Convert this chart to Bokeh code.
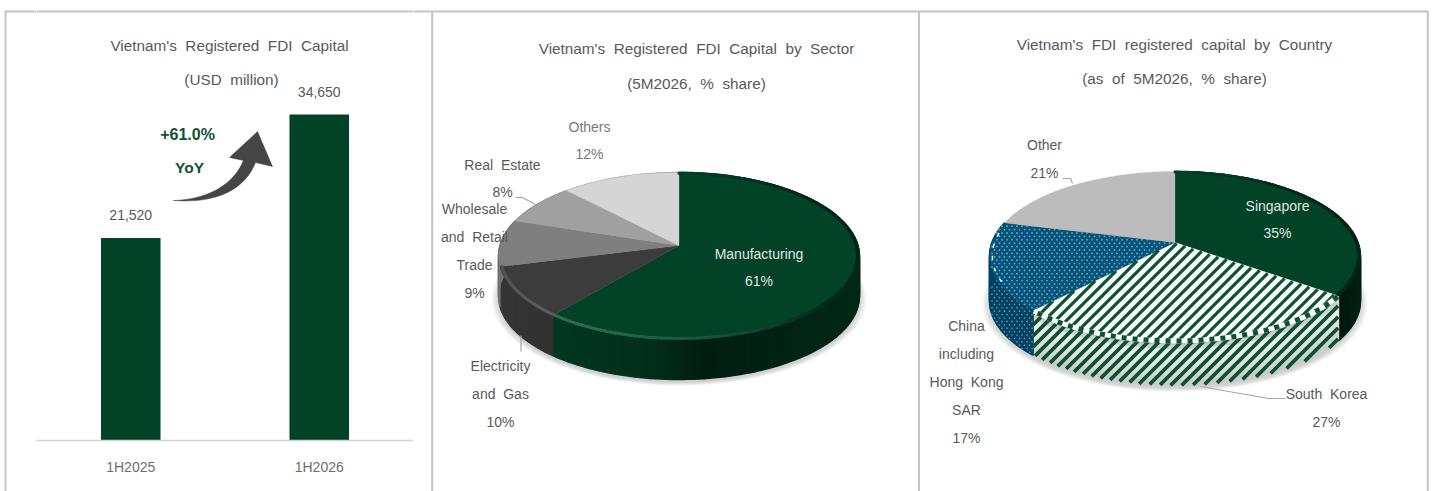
import numpy as np
from bokeh.embed import file_html
from bokeh.layouts import row
from bokeh.models import FixedTicker, Range1d
from bokeh.plotting import figure
from bokeh.resources import INLINE
from bokeh.core.properties import value

# ---------- data ----------
bar_categories = ["1H2025", "1H2026"]
bar_values = [21520, 34650]
bar_labels = ["21,520", "34,650"]
sector_names = ["Manufacturing", "Electricity\nand Gas", "Wholesale\nand Retail\nTrade", "Real Estate", "Others"]
sector_values = [61, 10, 9, 8, 12]
country_names = ["Singapore", "South Korea", "China\nincluding\nHong Kong\nSAR", "Other"]
country_values = [35, 27, 17, 21]

# ---------- style ----------
FONT = value("Liberation Sans")
GREEN = "#024227"
TXT = "#595959"
LEAD = "#a6a6a6"
BORDER = "#c4c4c4"
W0, W1, W2, H = 36, 377, 1022, 491
TITLE_SIZE = "15.3px"
LABEL_SIZE = "14px"


def wide(s):
    """The reference sets its words far apart."""
    return s.replace(" ", " \u00a0")


def hex2rgb(c):
    return np.array([int(c[i:i + 2], 16) for i in (1, 3, 5)], float)


def rgb2hex(a):
    a = np.clip(np.round(a), 0, 255).astype(int)
    return "#%02x%02x%02x" % tuple(a)


def mix(c1, c2, t):
    return rgb2hex(hex2rgb(c1) * (1 - t) + hex2rgb(c2) * t)


def shade(c, f):
    return rgb2hex(hex2rgb(c) * f)


class Pie:
    """Perspective view of a unit disc; angles run clockwise from twelve o'clock."""

    def __init__(self, cx, ay, up, down, half_w, depth):
        self.cx, self.ay, self.depth = cx, ay, depth
        self.k = (down - up) / (down + up)
        self.b = up * (1 + self.k)
        self.a = half_w * np.sqrt(1 - self.k ** 2)

    def pt(self, th, r=1.0):
        u, v = r * np.sin(th), r * np.cos(th)
        w = 1 + self.k * v
        return self.cx + self.a * u / w, self.ay - self.b * v / w


def slices(vals):
    edges = np.cumsum([0] + list(vals)) / sum(vals) * 2 * np.pi
    return list(zip(edges[:-1], edges[1:]))


def arc(t0, t1, deg=1.5):
    n = max(2, int(np.degrees(t1 - t0) / deg) + 1)
    return np.linspace(t0, t1, n)


def shadow(p, pie, alpha=0.045):
    th = np.linspace(0, 2 * np.pi, 140)
    x, y = pie.pt(th)
    my = (y.max() + y.min()) / 2
    for g in range(7):
        s = 1 + 0.0065 * g
        p.patch(pie.cx + (x - pie.cx) * s, my + pie.depth + 3 + (y - my) * s,
                fill_color="#606060", fill_alpha=alpha, line_color=None)


def side(p, pie, t0, t1, base, profile=(1.0,), curve=((-1, 0.9), (-0.2, 0.75), (0.1, 0.45), (1, 0.62))):
    """Front wall of one slice. Brightness follows the left-right position."""
    th = arc(t0, t1)
    xs, ys, cs = [], [], []
    us, fs = zip(*curve)
    nb = len(profile)
    for a, b in zip(th[:-1], th[1:]):
        xa, ya = pie.pt(a)
        xb, yb = pie.pt(b)
        f = np.interp(np.sin((a + b) / 2), us, fs)
        for i, pf in enumerate(profile):
            d0, d1 = pie.depth * i / nb, pie.depth * (i + 1) / nb
            xs.append([xa, xb, xb, xa])
            ys.append([ya + d0, yb + d0, yb + d1, ya + d1])
            cs.append(shade(base, f * pf))
    p.patches(xs, ys, fill_color=cs, line_color=cs, line_width=1.4)


def top(p, pie, t0, t1, color):
    th = arc(t0, t1, 1.0)
    x, y = pie.pt(th)
    p.patch(np.r_[pie.cx, x], np.r_[pie.ay, y], fill_color=color, line_color=color, line_width=0.3)


def bevel(p, pie, t0, t1, light, dark, base, width=3.0):
    """Rim highlight: lit toward the lower left, darkening toward the right."""
    th = arc(t0, t1, 1.5)
    xs, ys, cs = [], [], []
    for a, b in zip(th[:-1], th[1:]):
        m = (a + b) / 2
        u, v = np.sin(m), np.cos(m)
        xa, ya = pie.pt(a, 0.99)
        xb, yb = pie.pt(b, 0.99)
        t = np.clip(0.55 - 0.75 * u, 0, 1) * np.clip(-v + 0.1, 0, 1) ** 0.5
        d = np.clip(u + 0.05, 0, 1)
        c = mix(mix(base, dark, d), light, t)
        xs.append([xa, xb])
        ys.append([ya, yb])
        cs.append(c)
    p.multi_line(xs, ys, line_color=cs, line_width=width, line_cap="round")


def inside(px, py, qx, qy):
    c = np.zeros(px.shape, bool)
    j = len(qx) - 1
    for i in range(len(qx)):
        cond = (qy[i] > py) != (qy[j] > py)
        with np.errstate(divide="ignore", invalid="ignore"):
            xint = (qx[j] - qx[i]) * (py - qy[i]) / (qy[j] - qy[i]) + qx[i]
        c ^= cond & (px < xint)
        j = i
    return c


def stripes(p, qx, qy, period, slope, color, width, phase=0.0):
    """Rising diagonal lines limited to a polygon."""
    x0, x1 = qx.min(), qx.max()
    y0, y1 = qy.min(), qy.max()
    # line: y = c - slope * x
    cmin = y0 + slope * x0
    cmax = y1 + slope * x1
    step = period * slope
    first = np.floor((cmin - phase) / step) * step + phase
    xs, ys = [], []
    for c in np.arange(first, cmax + step, step):
        sx = np.arange(x0, x1 + 0.5, 0.5)
        sy = c - slope * sx
        m = inside(sx, sy, qx, qy)
        if not m.any():
            continue
        idx = np.where(m)[0]
        for run in np.split(idx, np.where(np.diff(idx) > 1)[0] + 1):
            if len(run) > 1:
                xs.append([sx[run[0]], sx[run[-1]]])
                ys.append([sy[run[0]], sy[run[-1]]])
    p.multi_line(xs, ys, line_color=color, line_width=width)


def dots(p, qx, qy, color, dx=5.0, dy=3.4, size=1.9):
    gy = np.arange(qy.min(), qy.max() + dy, dy)
    px, py = [], []
    for i, y in enumerate(gy):
        gx = np.arange(qx.min() + (dx / 2 if i % 2 else 0), qx.max(), dx)
        px.append(gx)
        py.append(np.full(gx.shape, y))
    px, py = np.concatenate(px), np.concatenate(py)
    m = inside(px, py, qx, qy)
    p.scatter(px[m], py[m], marker="circle", size=size, fill_color=color, line_color=None)


def T(p, x, y, s, color=TXT, size=LABEL_SIZE, style="normal", **kw):
    p.text([x], [y], text=[wide(s)], text_font=FONT, text_font_size=size, text_font_style=style,
           text_color=color, text_align="center", text_baseline="middle", **kw)


def block(p, x, y, name, val, color=TXT, pitch=28):
    lines = name.split("\n") + [f"{val}%"]
    for i, s in enumerate(lines):
        T(p, x, y + pitch * i, s, color=color)


def lead(p, xs, ys):
    p.line(xs, ys, line_color=LEAD, line_width=1.2)


def wall_polygon(pie, t0, t1):
    th = arc(t0, t1)
    x, y = pie.pt(th)
    return np.r_[x, x[::-1]], np.r_[y, y[::-1] + pie.depth]


def wedge_polygon(pie, t0, t1):
    th = arc(t0, t1, 1.0)
    x, y = pie.pt(th)
    return np.r_[pie.cx, x], np.r_[pie.ay, y]


# ---------- left edge of the outer frame ----------
p0 = figure(width=W0, height=H, output_backend="svg", toolbar_location=None,
            x_range=Range1d(0, W0), y_range=Range1d(H, 0), min_border=0,
            x_axis_location=None, y_axis_location=None, margin=(0, 0, 0, 0), frame_align=False)
p0.outline_line_color = None
p0.grid.visible = False
p0.line([5, 5], [11, H], line_color=BORDER, line_width=2)
p0.line([4, W0], [11, 11], line_color=BORDER, line_width=2)

# ---------- left panel: columns ----------
slots = [i + 0.5 for i in range(len(bar_categories))]
p1 = figure(width=W1, height=H, output_backend="svg", toolbar_location=None,
            x_range=Range1d(0, len(bar_categories)), y_range=Range1d(0, 440 / 326 * 34650),
            min_border_left=0, min_border_right=0, min_border_top=0, min_border_bottom=51,
            y_axis_location=None, margin=(0, 0, 0, 0), frame_align=False)
p1.extra_x_ranges = {"px": Range1d(W0, W0 + W1)}
p1.extra_y_ranges = {"px": Range1d(440, 0)}
p1.outline_line_color = None
p1.grid.visible = False
p1.background_fill_color = None
p1.xaxis.ticker = FixedTicker(ticks=slots)
p1.xaxis.major_label_overrides = dict(zip(slots, bar_categories))
p1.xaxis.axis_line_color = "#d4d4d4"
p1.xaxis.axis_line_width = 1.6
p1.xaxis.major_tick_line_color = None
p1.xaxis.minor_tick_line_color = None
p1.xaxis.major_label_text_color = "#6e6e6e"
p1.xaxis.major_label_text_font = "Liberation Sans"
p1.xaxis.major_label_text_font_size = LABEL_SIZE
p1.xaxis.major_label_standoff = 12

p1.line([W0, W0 + W1], [11, 11], line_color=BORDER, line_width=2, x_range_name="px", y_range_name="px")
p1.vbar(x=slots, top=bar_values, bottom=0, width=0.316, fill_color=GREEN, line_color=None)
p1.text(x=slots, y=bar_values, text=bar_labels, y_offset=-23, text_font=FONT, text_font_size=LABEL_SIZE,
        text_color=TXT, text_align="center", text_baseline="middle")
for x, y, s, c, st, fs in [(229, 45, "Vietnam's Registered FDI Capital", TXT, "normal", TITLE_SIZE),
                           (231, 79, "(USD million)", TXT, "normal", TITLE_SIZE),
                           (187, 134, "+61.0%", "#0f5235", "bold", "16px"),
                           (189, 167, "YoY", "#0f5235", "bold", "15.5px")]:
    p1.text([x], [y], text=[wide(s)], text_font=FONT, text_font_size=fs, text_font_style=st, text_color=c,
            text_align="center", text_baseline="middle", x_range_name="px", y_range_name="px")


def bez(a, b, c, d, n=24):
    t = np.linspace(0, 1, n)[:, None]
    a, b, c, d = map(np.array, (a, b, c, d))
    return (1 - t) ** 3 * a + 3 * (1 - t) ** 2 * t * b + 3 * (1 - t) * t ** 2 * c + t ** 3 * d


upper = bez((173, 200), (205, 199), (232, 186), (243, 160))
lower = bez((255, 162), (244, 190), (215, 203), (173, 200))
head = np.array([(229, 157), (257, 131), (272, 166)], float)
arrow = np.vstack([upper, head, lower])
p1.patch(arrow[:, 0], arrow[:, 1], fill_color="#454545", line_color="#454545", line_width=0.5,
         x_range_name="px", y_range_name="px")

# ---------- centre and right panels share one pixel frame ----------
X2 = W0 + W1
p2 = figure(width=W2, height=H, output_backend="svg", toolbar_location=None,
            x_range=Range1d(X2, X2 + W2), y_range=Range1d(H, 0),
            min_border=0, x_axis_location=None, y_axis_location=None, margin=(0, 0, 0, 0), frame_align=False)
p2.outline_line_color = None
p2.grid.visible = False

for xs, ys in [([431.7, 431.7], [11, H]), ([918.5, 918.5], [11, H]), ([1427.3, 1427.3], [11, H]), ([X2, 1428], [11, 11])]:
    p2.line(xs, ys, line_color=BORDER, line_width=2)

# centre: sector pie
pie1 = Pie(cx=678.5, ay=245, up=73, down=94, half_w=180.5, depth=40)
shadow(p2, pie1)
sector_colors = [GREEN, "#3c3c3c", "#7f7f7f", "#a0a0a0", "#d5d5d5"]
s1 = slices(sector_values)
for (t0, t1), c in zip(s1, sector_colors):
    side(p2, pie1, t0, t1, c)
for (t0, t1), c in zip(s1, sector_colors):
    top(p2, pie1, t0, t1, c)
bevel(p2, pie1, s1[0][0], s1[0][1], "#2f6f52", "#01241a", GREEN)
bevel(p2, pie1, s1[1][0], s1[1][1], "#5f5f5f", "#333333", "#3c3c3c")

T(p2, 696, 48, "Vietnam's Registered FDI Capital by Sector", size=TITLE_SIZE)
T(p2, 696, 83, "(5M2026, % share)", size=TITLE_SIZE)
block(p2, 758.5, 253, sector_names[0], sector_values[0], color="#e4e4e4", pitch=27.5)
block(p2, 500, 365, sector_names[1], sector_values[1], pitch=28)
block(p2, 474, 208, sector_names[2], sector_values[2], pitch=28)
block(p2, 502, 164, sector_names[3], sector_values[3], pitch=27)
block(p2, 589, 126, sector_names[4], sector_values[4], color="#7a7a7a", pitch=27)
lead(p2, [515, 522, 535], [197, 197, 204])
lead(p2, [520.5, 520.5], [335, 351])

# right: country pie
pie2 = Pie(cx=1174.5, ay=242, up=71, down=98, half_w=185.5, depth=45)
shadow(p2, pie2)
s2 = slices(country_values)
BLUE = "#04537a"
side(p2, pie2, s2[0][0], s2[0][1], GREEN, curve=((-1, 0.7), (0.3, 0.35), (0.8, 0.32), (1, 0.55)))
kprof = (0.72, 0.86, 0.97, 0.98, 0.96, 0.94, 0.92, 0.9, 0.87, 0.84)
side(p2, pie2, s2[1][0], s2[1][1], "#f2f2f2", profile=kprof, curve=((-1, 1), (1, 1)))
side(p2, pie2, s2[2][0], s2[2][1], BLUE, curve=((-1, 0.8), (1, 0.8)))
qx, qy = wall_polygon(pie2, *s2[1])
stripes(p2, qx, qy, 11, 1.0, "#0a5230", 3.6, phase=4)
qx, qy = wall_polygon(pie2, *s2[2])
dots(p2, qx, qy, "#5f97b0", size=1.7)

top(p2, pie2, *s2[0], GREEN)
top(p2, pie2, *s2[1], "#ffffff")
top(p2, pie2, *s2[2], BLUE)
top(p2, pie2, *s2[3], "#bcbcbc")
qx, qy = wedge_polygon(pie2, *s2[1])
stripes(p2, qx, qy, 11, 1.0, "#0a5230", 3.2)
qx, qy = wedge_polygon(pie2, *s2[2])
dots(p2, qx, qy, "#6ea4bb")
bevel(p2, pie2, s2[0][0], s2[0][1], "#0d5a38", "#01241a", GREEN)

# rim of the patterned slices: short dashes along the edge
th = arc(*s2[1], 0.5)
rx, ry = pie2.pt(th, 0.995)
p2.line(rx, ry + 1, line_color="#ffffff", line_width=5)
p2.line(rx, ry + 1, line_color="#0a5230", line_width=5, line_dash="5 6")
th = arc(s2[2][0] + 0.35, s2[2][1] - 0.12, 0.5)
rx, ry = pie2.pt(th, 0.985)
p2.line(rx, ry, line_color="#e6eff3", line_width=1.6, line_dash="4 8")

T(p2, 1174, 44, "Vietnam's FDI registered capital by Country", size=TITLE_SIZE)
T(p2, 1174, 78, "(as of 5M2026, % share)", size=TITLE_SIZE)
block(p2, 1277, 205, country_names[0], country_values[0], color="#e4e4e4", pitch=27.5)
block(p2, 1326, 393, country_names[1], country_values[1], pitch=28)
block(p2, 966, 325, country_names[2], country_values[2], pitch=28)
block(p2, 1044, 144, country_names[3], country_values[3], pitch=28)
lead(p2, [1062, 1070, 1072], [178, 178, 183])
lead(p2, [1200, 1268, 1285], [386, 398, 398])

page = row(p0, p1, p2, margin=(0, 0, 0, 0))
open("out.html", "w").write(file_html(page, INLINE))
